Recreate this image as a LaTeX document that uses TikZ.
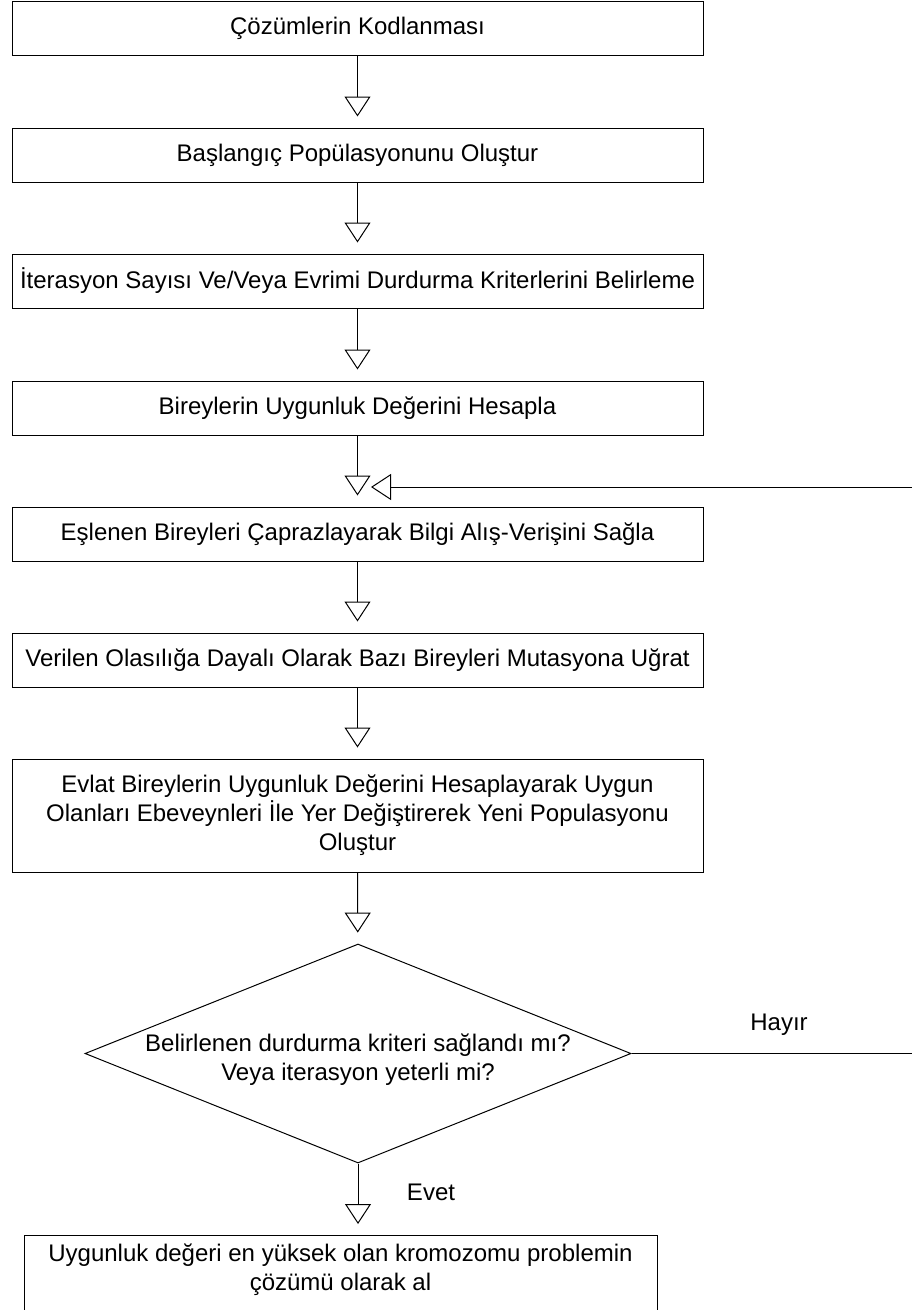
\documentclass[tikz,border=0pt]{standalone}
\usepackage{fontspec}
\setmainfont{Liberation Sans}
\usetikzlibrary{arrows.meta,shapes.geometric}

\begin{document}
\begin{tikzpicture}[x=1pt,y=-1pt,
	font=\fontsize{24}{29}\selectfont,
	box/.style={draw, line width=1pt, minimum width=691pt, minimum height=54pt, inner sep=0pt, align=center},
	decision/.style={draw, diamond, line width=1pt, minimum width=546pt, minimum height=219pt, inner sep=0pt},
	flow/.style={line width=1pt, -{Triangle[open, length=20pt, width=26pt]}, shorten >=11pt}]

	\useasboundingbox (0,0) rectangle (912,1310);
	\clip (0,0) rectangle (912,1310);

	\node[box] (kod) at (357.5,28.5) {Çözümlerin Kodlanması};
	\node[box] (bas) at (357.5,155) {Başlangıç Popülasyonunu Oluştur};
	\node[box] (iter) at (357.5,281) {İterasyon Sayısı Ve/Veya Evrimi Durdurma Kriterlerini Belirleme};
	\node[box] (uyg) at (357.5,408) {Bireylerin Uygunluk Değerini Hesapla};
	\node[box] (capr) at (357.5,534) {Eşlenen Bireyleri Çaprazlayarak Bilgi Alış-Verişini Sağla};
	\node[box] (mut) at (357.5,660) {Verilen Olasılığa Dayalı Olarak Bazı Bireyleri Mutasyona Uğrat};
	\node[box, minimum height=113pt] (evlat) at (357.5,815.5) {Evlat Bireylerin Uygunluk Değerini Hesaplayarak Uygun\\Olanları Ebeveynleri İle Yer Değiştirerek Yeni Populasyonu\\Oluştur};

	\node[decision] (karar) at (358,1053.5) {};
	\node[align=center] (karartxt) at (358,1060) {Belirlenen durdurma kriteri sağlandı mı?\\Veya iterasyon yeterli mi?};

	\node[box, minimum width=633pt, minimum height=0pt, anchor=north, inner ysep=8.5pt, text depth=80pt] (sonuc) at (340.5,1235) {Uygunluk değeri en yüksek olan kromozomu problemin\\çözümü olarak al};

	\coordinate (hayir) at (912,1053.5);
	\coordinate (geri) at (912,487);
	\coordinate (geriuc) at (371,487);

	\draw[flow] (kod) -- (bas);
	\draw[flow] (bas) -- (iter);
	\draw[flow] (iter) -- (uyg);
	\draw[flow] (uyg) -- (capr);
	\draw[flow] (capr) -- (mut);
	\draw[flow] (mut) -- (evlat);
	\draw[flow] (evlat) -- (karar);
	\draw[flow] (karar.south) -- (karar.south |- sonuc.north);
	\draw[line width=1pt] (karar.east) -- (hayir);
	\draw[flow, shorten >=0pt] (geri) -- (geriuc);

	\node (hayirtxt) at (779,1025) {Hayır};
	\node (evettxt) at (431,1192) {Evet};
\end{tikzpicture}
\end{document}
